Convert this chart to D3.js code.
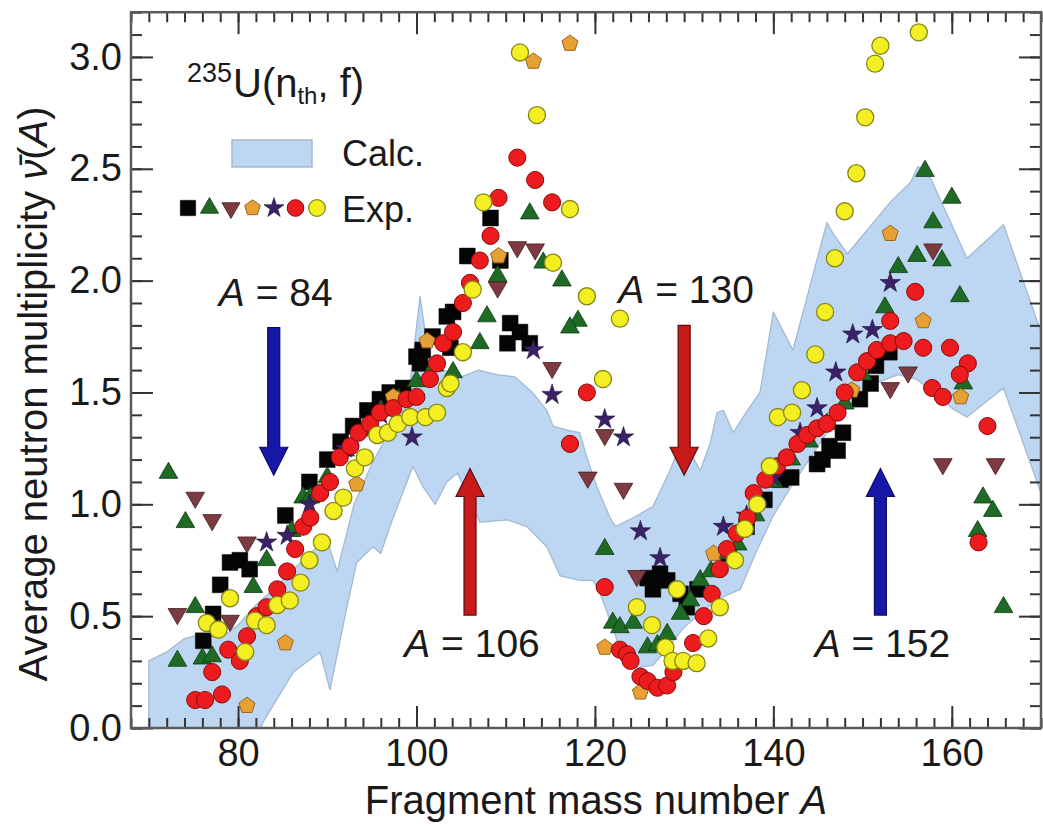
<!DOCTYPE html>
<html>
<head>
<meta charset="utf-8">
<script src="https://cdn.jsdelivr.net/npm/d3@7"></script>
<style>
  html, body { margin: 0; padding: 0; background: #fff; }
  svg { display: block; font-family: "Liberation Sans", Arial, Helvetica, sans-serif; }
</style>
</head>
<body>
<svg id="chart" width="1043" height="826"></svg>
<script>
// ---- Calculated band (upper and lower edges), [A, nu] ----
const calcUpper = [
  [70,0.30],[72,0.34],[74,0.40],[76,0.42],[78,0.40],[80,0.46],[82,0.55],[84,0.62],[86,0.70],
  [88,0.78],[90,0.84],[91.1,0.70],[93,1.00],[95,1.18],[97,1.33],[99,1.45],[100.4,1.93],
  [101.5,1.62],[103,1.60],[105,1.57],[107,1.60],[109,1.58],[111,1.57],[113,1.50],[114.6,1.42],
  [115.3,1.35],[117,1.33],[118.3,1.32],[119.1,1.21],[120.2,1.08],[121.7,0.94],[122.3,0.90],
  [124.3,0.94],[126.5,0.99],[128.4,1.15],[129.2,1.23],[131,1.21],[131.8,1.15],[132.9,1.27],
  [133.7,1.41],[134.4,1.42],[135.5,1.32],[137.1,1.42],[138.5,1.50],[140,1.86],[142.2,1.69],
  [146,2.26],[146.7,2.21],[148.3,2.12],[153.1,2.35],[155.4,2.44],[156.2,2.51],[157.6,2.46],
  [161.7,2.10],[165.8,2.25],[170,1.77]
];
const calcLower = [
  [70,0.0],[82.5,0.0],[83,0.04],[86.2,0.25],[89.2,0.34],[90.3,0.17],[92.2,0.54],[93.3,0.74],
  [95.1,0.81],[96,0.78],[97,0.90],[99.6,1.17],[100.7,1.08],[102.1,1.00],[103.4,1.10],[104.6,1.14],
  [107.1,0.92],[110.2,0.93],[112.4,0.90],[114.6,0.81],[116.1,0.68],[118.3,0.66],[119.8,0.66],
  [120.6,0.60],[122,0.45],[123.2,0.30],[124.5,0.27],[126.5,0.28],[128,0.35],[130,0.45],
  [132,0.52],[134,0.58],[136.3,0.62],[138,0.78],[140,0.95],[142,1.08],[144,1.20],[146,1.32],
  [148,1.42],[150,1.50],[152,1.55],[154,1.58],[156,1.56],[158,1.50],[160,1.43],[161.7,1.39],
  [165.8,1.52],[170,1.05]
];

// ---- Experimental data sets, [A, nu] ----
const expSquares = [
  [76.1,0.39],[77.2,0.51],[78.0,0.64],[79.1,0.74],[80.2,0.75],[81.3,0.71],[85.3,0.95],
  [88,1.10],[90,1.20],[91.5,1.28],[92.9,1.35],[94.5,1.42],[95.9,1.47],[97,1.50],[98.5,1.52],
  [100,1.66],[100.7,1.69],[101.8,1.75],[103.4,1.84],[104.1,1.86],[103.8,1.70],[100.4,1.63],
  [105.7,2.11],[108.3,2.28],[109.4,2.09],[110.5,1.81],[111.6,1.77],[110.2,1.72],[112.7,1.72],
  [125.9,0.67],[126.5,0.62],[127.3,0.69],[128.1,0.66],[129.6,0.60],[130.3,0.54],[131.5,0.62],
  [135,0.78],[137,0.90],[139,1.02],[140.8,1.11],[142,1.12],[144.9,1.18],[145.5,1.20],[146.3,1.26],
  [147.2,1.24],[147.8,1.32],[149.7,1.47],[150.9,1.54],[151.5,1.62],[153,1.68]
];
const expTrianglesUp = [
  [72.2,1.14],[74.1,0.92],[73.2,0.30],[75.2,0.54],[76,0.31],[77.1,0.32],[81.7,0.63],[83.2,0.75],
  [86,0.88],[87.3,1.03],[88.1,1.03],[90,1.12],[92,1.24],[94,1.33],[96,1.42],[98,1.47],[100,1.55],
  [102,1.62],[104.1,1.59],[107.1,1.72],[107.9,1.84],[109.1,2.02],[112.7,2.30],[114.2,2.08],
  [116.3,2.00],[118.1,1.82],[117.2,1.79],
  [121.1,0.80],[122,0.47],[122.8,0.45],[124.3,0.47],[125.9,0.36],[127,0.37],[128.1,0.42],
  [129.6,0.51],[130.7,0.57],[131.8,0.66],[133,0.70],[134.5,0.78],
  [136,0.82],[138,0.95],[140,1.10],[142,1.20],[144,1.28],[146,1.36],[148,1.45],[150,1.58],
  [152.5,1.88],[154,2.06],[156.1,2.11],[157,2.49],[157.9,2.26],[158.9,2.09],[160,2.37],
  [160.9,1.93],[161.3,1.54],[163.5,1.03],[164.6,0.97],[162.9,0.88],[165.8,0.54]
];
const expTrianglesDown = [
  [75.2,1.03],[77.1,0.93],[73.2,0.51],[79.1,0.48],[81,0.83],[109.1,1.97],[111.3,2.15],
  [113.3,2.14],[115.2,1.61],[119.2,1.12],[121.1,1.31],[123.2,1.07],[124.7,0.68],
  [153.1,1.52],[155.1,1.59],[157.9,2.14],[159,1.18],[164.9,1.18]
];
const expPentagons = [
  [81,0.10],[85.3,0.38],[93.3,1.09],[97.4,1.48],[101.2,1.73],[109.2,2.11],[113.1,2.98],
  [117.2,3.06],[121.1,0.36],[125.1,0.16],[133.3,0.78],[148.8,1.51],[153.1,2.21],[156.8,1.82],
  [161,1.48]
];
const expStars = [
  [83.2,0.83],[85.5,0.86],[88,1.00],[92,1.25],[96,1.40],[99.5,1.30],[113.1,1.69],[115.2,1.49],
  [121.1,1.38],[123.2,1.30],[125.1,0.88],[127.3,0.76],[134.4,0.90],[137,0.95],[140,1.12],
  [143,1.32],[144.9,1.43],[147,1.59],[148.9,1.76],[151.1,1.78],[153.1,1.99]
];
const expRedCircles = [
  [75.2,0.125],[76.3,0.125],[78.2,0.15],[77.1,0.25],[78.9,0.35],[80.2,0.30],[81,0.41],[82.1,0.50],
  [83.2,0.54],[84.4,0.62],[85.5,0.70],[86.4,0.80],[87.3,0.90],[88.1,0.94],[89.2,1.05],[90.3,1.10],
  [91.4,1.21],[92.6,1.26],[93.5,1.32],[94.8,1.36],[95.9,1.41],[97.4,1.43],[98.9,1.47],[100,1.48],
  [101.5,1.56],[102.3,1.63],[103,1.72],[104.1,1.77],[105.2,1.90],[106,1.99],[107.1,2.09],
  [108.3,2.20],[109.2,2.37],[111.3,2.55],[113.3,2.45],[115.2,2.35],[117.2,1.27],[119.1,1.50],
  [121.1,0.63],
  [122.8,0.35],[123.6,0.33],[124,0.30],[125.1,0.23],[125.9,0.21],[127,0.18],[128.1,0.19],
  [128.8,0.25],[131,0.38],[132.2,0.50],[133.1,0.60],[134,0.71],[134.8,0.80],[135.9,0.87],
  [137.1,0.94],[137.8,1.05],
  [139.1,1.11],[140.4,1.17],[141.5,1.21],[142.7,1.27],[143.8,1.31],[144.9,1.34],[146,1.36],
  [147.2,1.41],[148,1.50],[149.4,1.59],[150.5,1.64],[151.6,1.69],[153.1,1.72],[154.6,1.73],
  [156.8,1.70],[159.8,1.70],[161.8,1.63],[160.9,1.58],[157.8,1.52],[159,1.48],[164,1.35],
  [163,0.83],[155.9,1.95],[153.1,1.82]
];
const expYellowCircles = [
  [76.5,0.47],[77.8,0.44],[79.1,0.58],[80.8,0.34],[81.9,0.48],[83.2,0.46],[84.4,0.55],[85.8,0.57],
  [87,0.65],[88,0.75],[89.4,0.83],[90.7,0.97],[91.8,1.03],[93.1,1.16],[94.2,1.21],[95.6,1.31],
  [96.8,1.32],[97.9,1.36],[99.3,1.39],[101,1.39],[102.3,1.41],[103.4,1.52],[103.8,1.54],
  [105.2,1.68],[106.3,1.96],[107.5,2.35],[111.6,3.02],[113.5,2.74],[115.3,2.08],[117.2,2.32],
  [119.1,1.93],[120.9,1.56],[122.8,1.83],
  [124.7,0.54],[126.4,0.46],[127.9,0.36],[128.7,0.30],[129.9,0.30],[131.4,0.29],[132.7,0.40],
  [134,0.54],[129.2,0.62],[135.7,0.75],[136.8,0.89],[138.2,1.00],
  [139.6,1.17],[140.5,1.39],[142.1,1.41],[143.2,1.51],[144.7,1.67],[145.8,1.86],[146.9,2.10],
  [148,2.31],[149.3,2.48],[150.3,2.73],[151.4,2.97],[152,3.05],[156.3,3.11]
];

// ---- Marked mass numbers: arrow from nu0 to nu1 ----
const arrowMass = [84, 106, 130, 152];
const arrowFrom = [1.79, 0.505, 1.80, 0.505];
const arrowTo   = [1.13, 1.16, 1.13, 1.16];

// ---- Axis ticks ----
const xMajorTicks = [80, 100, 120, 140, 160];
const yMajorTicks = [0, 0.5, 1.0, 1.5, 2.0, 2.5, 3.0];

// ---------------------------------------------------------------
const svg = d3.select("#chart");
const X0 = 131, X1 = 1041, Y0 = 728, Y1 = 12.2;
const x = d3.scaleLinear().domain([68, 170]).range([X0, X1]);
const y = d3.scaleLinear().domain([0, 3.2]).range([Y0, Y1]);

svg.append("defs").append("clipPath").attr("id", "plotClip")
  .append("rect").attr("x", X0).attr("y", Y1).attr("width", X1 - X0).attr("height", Y0 - Y1);

const plot = svg.append("g").attr("clip-path", "url(#plotClip)");

// calculated band
const bandLine = d3.line().x(d => x(d[0])).y(d => y(d[1]));
plot.append("path")
  .attr("d", bandLine(calcUpper.concat(calcLower.slice().reverse())) + "Z")
  .attr("fill", "#bdd7f3")
  .attr("stroke", "#a3b9d4")
  .attr("stroke-width", 1.3)
  .attr("stroke-linejoin", "round");

// arrows with labels
const arrowColors = [
  { fill: "#1818a8", stroke: "#0b0b66" },
  { fill: "#c81a1a", stroke: "#5c0c0c" },
  { fill: "#c81a1a", stroke: "#5c0c0c" },
  { fill: "#1818a8", stroke: "#0b0b66" }
];
arrowMass.forEach((m, i) => {
  const cx = x(m), ya = y(arrowFrom[i]), yb = y(arrowTo[i]);
  const dir = yb > ya ? 1 : -1;
  const sw = 6, hw = 14, hl = 28;
  const yh = yb - dir * hl;
  const p = d3.path();
  p.moveTo(cx - sw, ya); p.lineTo(cx + sw, ya); p.lineTo(cx + sw, yh); p.lineTo(cx + hw, yh);
  p.lineTo(cx, yb); p.lineTo(cx - hw, yh); p.lineTo(cx - sw, yh); p.closePath();
  plot.append("path").attr("d", p.toString())
    .attr("fill", arrowColors[i].fill).attr("stroke", arrowColors[i].stroke).attr("stroke-width", 1.2);
  const ty = dir > 0 ? ya - 22 : ya + 42;
  const t = svg.append("text").attr("x", cx + 2).attr("y", ty)
    .attr("text-anchor", "middle").attr("font-size", 39).attr("fill", "#1a1a1a");
  t.append("tspan").attr("font-style", "italic").text("A");
  t.append("tspan").text(" = " + m);
});

// marker shapes
const symbolPentagon = {
  draw(ctx, size) {
    const r = Math.sqrt(size / (2.5 * Math.sin(2 * Math.PI / 5)));
    for (let i = 0; i < 5; i++) {
      const a = -Math.PI / 2 + i * 2 * Math.PI / 5;
      const px = r * Math.cos(a), py = r * Math.sin(a);
      if (i === 0) ctx.moveTo(px, py); else ctx.lineTo(px, py);
    }
    ctx.closePath();
  }
};
const series = [
  { data: expSquares,       type: d3.symbolSquare,   size: 250, rot: 0,   fill: "#050505", stroke: "#000",    sw: 0.5 },
  { data: expTrianglesUp,   type: d3.symbolTriangle, size: 150, rot: 0,   fill: "#1f6a24", stroke: "#0c3a10", sw: 0.8 },
  { data: expTrianglesDown, type: d3.symbolTriangle, size: 150, rot: 180, fill: "#7c3b40", stroke: "#4a1a1e", sw: 0.8 },
  { data: expPentagons,     type: symbolPentagon,    size: 170, rot: 0,   fill: "#e6a034", stroke: "#9a661a", sw: 1 },
  { data: expStars,         type: d3.symbolStar,     size: 130, rot: 0,   fill: "#3b2266", stroke: "#1d0f38", sw: 0.6 },
  { data: expRedCircles,    type: d3.symbolCircle,   size: 230, rot: 0,   fill: "#ec1b1d", stroke: "#8a0b0b", sw: 1 },
  { data: expYellowCircles, type: d3.symbolCircle,   size: 230, rot: 0,   fill: "#f3ef22", stroke: "#868518", sw: 1.3 }
];
series.forEach(s => {
  const sym = d3.symbol().type(s.type).size(s.size);
  plot.append("g").selectAll("path").data(s.data).join("path")
    .attr("d", sym)
    .attr("transform", d => `translate(${x(d[0])},${y(d[1])}) rotate(${s.rot})`)
    .attr("fill", s.fill).attr("stroke", s.stroke).attr("stroke-width", s.sw);
});

// axes: inward ticks on all four sides
const tickStyle = g => {
  g.select(".domain").remove();
  g.selectAll(".tick line").attr("stroke", "#333").attr("stroke-width", 2);
  g.selectAll(".tick text").attr("fill", "#1a1a1a").attr("font-size", 38)
    .attr("font-family", '"Liberation Sans", Arial, sans-serif');
};
const xMinor = d3.range(68, 171, 2);
const yMinor = d3.range(0, 32.5, 1).map(v => v / 10);

svg.append("g").attr("transform", `translate(0,${Y0})`)
  .call(d3.axisBottom(x).tickValues(xMinor).tickSize(-10).tickFormat("")).call(tickStyle);
svg.append("g").attr("transform", `translate(0,${Y0})`)
  .call(d3.axisBottom(x).tickValues(xMajorTicks).tickSize(-22).tickPadding(11).tickFormat(d3.format("d")))
  .call(tickStyle)
  .call(g => g.selectAll(".tick text").attr("y", 11));
svg.append("g").attr("transform", `translate(0,${Y1})`)
  .call(d3.axisTop(x).tickValues(xMinor).tickSize(-10).tickFormat("")).call(tickStyle);
svg.append("g").attr("transform", `translate(0,${Y1})`)
  .call(d3.axisTop(x).tickValues(xMajorTicks).tickSize(-22).tickFormat("")).call(tickStyle);

svg.append("g").attr("transform", `translate(${X0},0)`)
  .call(d3.axisLeft(y).tickValues(yMinor).tickSize(-11).tickFormat("")).call(tickStyle);
svg.append("g").attr("transform", `translate(${X0},0)`)
  .call(d3.axisLeft(y).tickValues(yMajorTicks).tickSize(-22).tickPadding(9).tickFormat(d3.format(".1f")))
  .call(tickStyle)
  .call(g => g.selectAll(".tick text").attr("x", -9));
svg.append("g").attr("transform", `translate(${X1},0)`)
  .call(d3.axisRight(y).tickValues(yMinor).tickSize(-11).tickFormat("")).call(tickStyle);
svg.append("g").attr("transform", `translate(${X1},0)`)
  .call(d3.axisRight(y).tickValues(yMajorTicks).tickSize(-22).tickFormat("")).call(tickStyle);

// frame
svg.append("rect").attr("x", X0).attr("y", Y1).attr("width", X1 - X0).attr("height", Y0 - Y1)
  .attr("fill", "none").attr("stroke", "#5a5a5a").attr("stroke-width", 2.5);

// axis titles
const xt = svg.append("text").attr("x", 596).attr("y", 814).attr("text-anchor", "middle")
  .attr("font-size", 40).attr("fill", "#1a1a1a");
xt.append("tspan").text("Fragment mass number ");
xt.append("tspan").attr("font-style", "italic").text("A");

const yt = svg.append("text").attr("transform", "translate(47,394) rotate(-90)")
  .attr("text-anchor", "middle").attr("font-size", 40).attr("fill", "#1a1a1a");
yt.append("tspan").text("Average neutron multiplicity ");
yt.append("tspan").attr("font-style", "italic").text("\u03BD\u0304");
yt.append("tspan").text("(");
yt.append("tspan").attr("font-style", "italic").text("A");
yt.append("tspan").text(")");

// reaction label
svg.append("text").attr("x", 187).attr("y", 82).attr("font-size", 27).attr("fill", "#1a1a1a").text("235");
const rt = svg.append("text").attr("x", 233).attr("y", 97).attr("font-size", 40).attr("fill", "#1a1a1a");
rt.append("tspan").text("U(n");
rt.append("tspan").attr("font-size", 24).attr("dy", 7).text("th");
rt.append("tspan").attr("dy", -7).text(", f)");

// legend
svg.append("rect").attr("x", 232).attr("y", 140).attr("width", 80).attr("height", 27)
  .attr("fill", "#bdd7f3").attr("stroke", "#a3b9d4").attr("stroke-width", 1.5);
svg.append("text").attr("x", 342).attr("y", 166).attr("font-size", 36).attr("fill", "#1a1a1a").text("Calc.");
svg.append("text").attr("x", 342).attr("y", 222).attr("font-size", 36).attr("fill", "#1a1a1a").text("Exp.");
series.forEach((s, i) => {
  const sym = d3.symbol().type(s.type).size(s.size * 0.95);
  svg.append("path").attr("d", sym)
    .attr("transform", `translate(${188 + i * 21.5},208) rotate(${s.rot})`)
    .attr("fill", s.fill).attr("stroke", s.stroke).attr("stroke-width", s.sw);
});
</script>
</body>
</html>
